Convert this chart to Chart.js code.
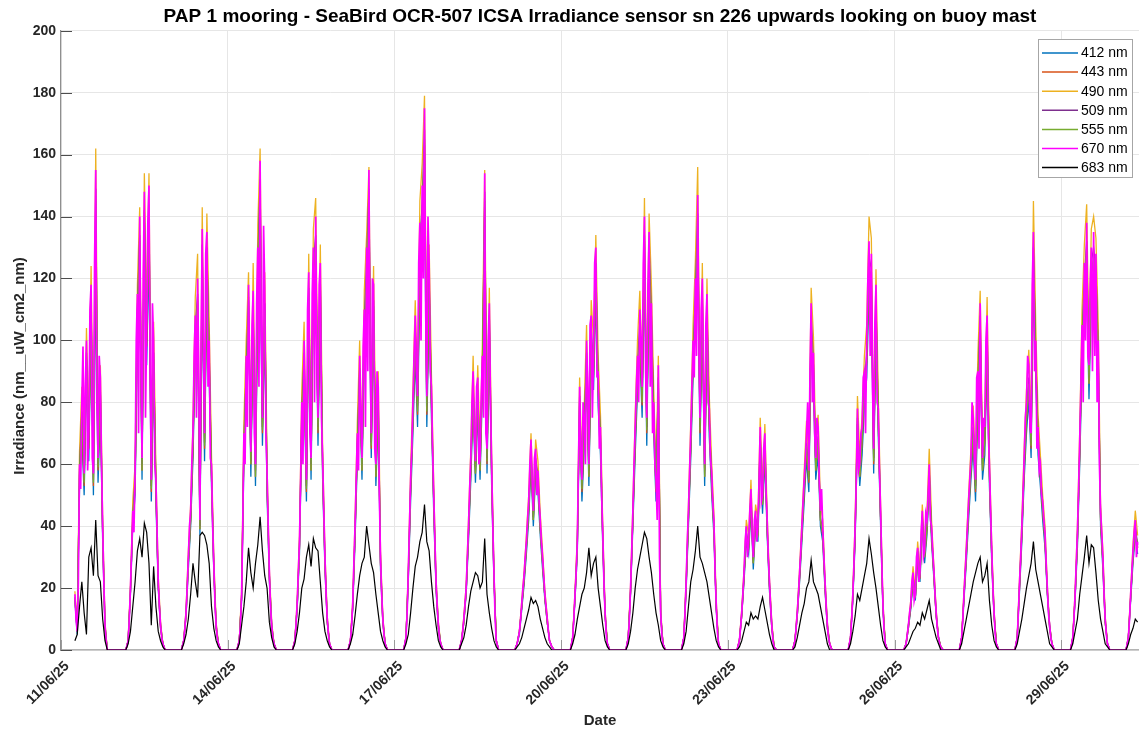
<!DOCTYPE html>
<html><head><meta charset="utf-8">
<script src="https://cdn.jsdelivr.net/npm/chart.js@4.4.1/dist/chart.umd.min.js"></script>
<style>html,body{margin:0;padding:0;background:#fff}#wrap{width:1139px;height:731px}</style>
</head><body><div id="wrap"><canvas id="c" width="1139" height="731"></canvas></div>
<script>
const chartTitle = 'PAP 1 mooring - SeaBird OCR-507 ICSA Irradiance sensor sn 226 upwards looking on buoy mast';
const yAxisTitle = 'Irradiance (nm__uW_cm2_nm)';
const xAxisTitle = 'Date';
const seriesLabels = ['412 nm','443 nm','490 nm','509 nm','555 nm','670 nm','683 nm'];
const seriesColors = ['#0072BD','#D95319','#EDB120','#7E2F8E','#77AC30','#FF00FF','#000000'];
const dateTickDays = [0,3,6,9,12,15,18];
const dateTickLabels = ['11/06/25','14/06/25','17/06/25','20/06/25','23/06/25','26/06/25','29/06/25'];
const yTicks = [0,20,40,60,80,100,120,140,160,180,200];
// sample hours of day (days counted from 11/06/25 00:00); nights read as 0
const hourlySamples = [5,6,7,8,9,10,11,12,13,14,15,16,17,18,19,20];
const halfHourSamples = [5,5.5,6,6.5,7,7.5,8,8.5,9,9.5,10,10.5,11,11.5,12,12.5,13,13.5,14,14.5,15,15.5,16,16.5,17,17.5,18,18.5,19,19.5,20];
const nightHours = [4,21];
const nightLevel = 0;

// 670 nm read at half-hour spacing (dense magenta trace)
const irr670 = [
[null,null,18,10,6,22,60,52,80,98,57,85,100,58,70,110,118,62,57,125,155,80,62,95,88,60,40,22,8,3,0],
[3,10,20,32,45,38,57,100,115,70,140,95,62,120,148,75,105,138,150,90,55,112,100,60,55,38,22,14,8,4,2],
[3,7,12,20,30,40,45,60,70,95,108,75,120,90,42,100,136,95,70,128,135,85,100,62,60,40,28,15,8,4,2],
[3,8,18,40,70,60,95,72,118,90,64,105,116,70,60,112,130,85,158,100,75,137,117,70,57,40,25,14,8,4,2],
[3,8,15,25,35,55,80,60,100,80,55,110,122,70,62,115,130,80,140,95,75,118,125,75,62,45,30,18,10,5,2],
[3,8,15,28,40,55,70,58,95,75,62,98,110,72,130,90,155,95,70,120,118,65,60,90,85,50,30,18,10,5,2],
[4,12,25,40,55,65,80,95,108,90,82,125,138,100,150,120,175,110,82,140,125,90,85,65,50,35,22,14,8,4,2],
[3,6,10,15,20,30,40,52,62,80,90,70,61,85,88,60,62,82,95,75,154,70,65,100,112,80,60,40,25,10,3],
[2,4,6,10,15,20,24,30,35,42,48,60,68,55,45,62,65,50,58,48,42,35,30,24,18,14,10,6,3,2,1],
[4,10,18,25,35,60,85,62,55,80,75,60,100,85,60,105,108,75,95,125,130,88,90,65,72,50,38,22,12,5,2],
[4,10,20,32,45,60,72,85,95,80,110,100,85,125,140,90,75,118,135,85,112,70,80,60,55,42,92,30,12,5,2],
[4,12,22,35,45,58,70,85,100,88,120,95,147,100,75,110,120,85,60,105,115,80,78,62,58,48,42,25,15,6,2],
[3,7,12,18,25,35,40,30,35,45,52,38,30,42,45,35,40,55,72,48,50,65,70,52,42,30,22,14,8,3,1],
[3,7,12,18,25,32,40,48,55,62,70,80,58,90,112,80,96,70,62,75,72,55,45,52,40,30,22,14,8,4,2],
[4,10,18,28,40,55,78,58,60,70,72,88,90,70,100,120,132,95,128,85,65,105,118,80,78,58,45,28,15,6,2],
[2,5,8,12,15,22,25,16,18,30,33,22,25,38,45,30,32,44,42,50,60,42,40,32,26,18,12,7,4,2,1],
[4,10,18,25,32,40,48,55,62,80,75,62,55,88,90,65,112,80,62,75,72,100,108,70,60,45,32,20,12,5,2],
[4,12,22,30,40,50,62,75,80,95,92,72,70,118,135,90,100,65,72,58,60,50,48,42,38,28,20,12,8,4,2],
[4,10,18,28,38,52,68,85,105,80,125,100,138,95,92,118,130,90,135,95,128,80,100,60,45,38,30,18,10,5,2],
[4,10,18,25,32,38,42,30,35]
];
const irr683 = [
[null,3,5,14,22,12,5,30,33,24,42,24,22,10,3,0],
[2,6,14,22,32,36,30,41,38,28,8,27,14,6,3,1],
[2,5,10,18,28,22,17,37,38,37,34,28,14,7,3,1],
[2,8,14,22,33,25,20,28,34,43,32,24,20,9,4,1],
[2,6,12,20,23,30,34,27,36,33,32,22,12,6,3,1],
[2,5,11,18,24,28,30,40,34,28,25,18,12,6,3,1],
[2,5,12,20,27,30,35,38,47,35,32,22,14,8,3,1],
[2,4,8,14,19,22,25,24,20,22,36,18,12,7,3,1],
[1,2,4,7,10,13,17,15,16,14,10,7,4,2,1,0],
[2,5,10,14,18,20,25,33,24,28,30,20,14,8,3,1],
[2,6,12,20,26,30,34,38,36,30,25,18,12,8,3,1],
[2,6,14,22,26,32,40,30,28,25,22,17,12,7,3,1],
[1,3,6,9,8,12,10,11,10,14,17,13,9,5,2,0],
[1,4,8,12,15,20,22,29,22,20,18,14,10,6,2,0],
[2,6,11,18,16,20,24,28,36,31,25,20,14,8,3,1],
[1,2,4,6,7,9,8,12,10,13,16,10,7,4,2,0],
[2,6,10,14,18,22,25,28,30,22,24,28,16,8,3,1],
[2,6,10,15,20,24,28,35,26,22,18,14,10,6,2,1],
[2,6,10,18,24,30,37,28,34,33,25,16,10,6,2,1],
[2,5,7,10,9]
];
const irr490 = [
[null,19,7,64,85,60,104,74,124,60,162,66,92,42,9,0],
[3,21,48,60,118,143,65,154,110,154,58,106,58,24,9,2],
[3,13,32,47,74,114,128,44,143,74,141,106,63,30,9,2],
[3,19,74,100,122,67,125,63,137,162,80,122,60,26,9,2],
[3,16,37,84,106,58,128,65,136,146,79,131,65,32,11,2],
[3,16,42,74,100,65,116,134,156,74,124,63,90,32,11,2],
[4,26,58,84,113,86,145,157,179,86,131,89,53,23,9,2],
[3,11,21,42,65,95,64,92,65,99,155,68,117,63,26,3],
[2,6,16,25,37,50,70,47,68,61,44,32,19,11,3,1],
[4,19,37,88,58,79,105,63,113,100,134,95,76,40,13,2],
[4,21,47,76,100,116,89,146,79,141,118,84,58,95,13,2],
[4,23,47,74,105,126,156,79,125,63,120,82,61,44,16,2],
[3,13,26,42,37,55,32,47,42,75,53,73,44,23,9,1],
[3,13,26,42,58,74,61,117,101,65,76,47,42,23,9,2],
[4,19,42,82,63,76,95,105,140,133,68,123,82,47,16,2],
[2,8,16,27,19,35,26,47,34,44,65,42,27,13,4,1],
[4,19,34,50,65,79,58,95,116,65,76,114,63,34,13,2],
[4,23,42,65,84,97,74,145,105,76,63,50,40,21,8,2],
[4,19,40,71,110,131,144,97,136,140,133,105,47,32,11,2],
[4,19,34,45,37]
];
const irr412 = [
[null,16,5,52,70,50,88,61,104,50,120,54,77,35,7,0],
[3,18,40,50,100,122,55,130,92,128,48,88,48,20,7,2],
[3,11,26,40,62,95,105,37,118,61,118,88,53,25,7,2],
[3,16,61,84,110,56,102,53,114,132,66,103,50,22,7,2],
[3,13,31,70,88,48,107,55,114,123,66,110,55,26,9,2],
[3,13,35,62,84,55,97,114,130,62,104,53,75,26,9,2],
[4,22,48,70,95,72,121,132,150,72,110,75,44,19,7,2],
[3,9,18,35,55,79,54,77,55,84,120,57,99,53,22,3],
[2,5,13,21,31,42,60,40,57,51,37,26,16,9,3,1],
[4,16,31,75,48,66,88,53,95,84,114,79,63,33,11,2],
[4,18,40,63,84,97,75,123,66,119,99,70,48,81,11,2],
[4,19,40,62,88,106,125,66,106,53,101,69,51,37,13,2],
[3,11,22,35,31,46,26,40,35,63,44,62,37,19,7,1],
[3,11,22,35,48,62,51,99,84,55,63,40,35,19,7,2],
[4,16,35,69,53,63,79,88,116,113,57,104,69,40,13,2],
[2,7,13,22,16,29,22,40,28,37,53,35,23,11,4,1],
[4,16,28,42,55,66,48,79,99,55,63,95,53,28,11,2],
[4,19,35,55,70,81,62,119,88,63,53,42,33,18,7,2],
[4,16,33,60,92,110,121,81,114,119,113,88,40,26,9,2],
[4,16,28,37,31]
];
const irr443 = [
[null,17,6,56,74,53,93,65,110,53,140,58,82,37,7,0],
[3,19,42,53,107,130,58,138,98,140,51,93,51,21,7,2],
[3,11,28,42,65,100,112,39,126,65,126,93,56,26,7,2],
[3,17,65,88,114,60,108,56,121,147,70,109,53,23,7,2],
[3,14,33,74,93,51,113,58,121,130,70,116,58,28,9,2],
[3,14,37,65,88,58,102,121,144,65,110,56,79,28,9,2],
[4,23,51,74,100,76,128,140,163,76,116,79,47,20,7,2],
[3,9,19,37,58,84,57,82,58,88,143,60,104,56,23,3],
[2,6,14,22,33,45,63,42,60,54,39,28,17,9,3,1],
[4,17,33,79,51,70,93,56,100,88,121,84,67,35,11,2],
[4,19,42,67,88,102,79,130,70,126,104,74,51,86,11,2],
[4,20,42,65,93,112,137,70,112,56,107,73,54,39,14,2],
[3,11,23,37,33,48,28,42,37,67,47,65,39,20,7,1],
[3,11,23,37,51,65,54,104,89,58,67,42,37,20,7,2],
[4,17,37,73,56,67,84,93,123,119,60,110,73,42,14,2],
[2,7,14,23,17,31,23,42,30,39,56,37,24,11,4,1],
[4,17,30,45,58,70,51,84,104,58,67,100,56,30,11,2],
[4,20,37,58,74,86,65,126,93,67,56,45,35,19,7,2],
[4,17,35,63,98,116,128,86,121,126,119,93,42,28,9,2],
[4,17,30,39,33]
];
const irr509 = [
[null,17,6,58,77,55,96,67,113,55,149,60,84,38,8,0],
[3,19,43,55,110,134,60,142,101,144,53,96,53,21,8,2],
[3,12,29,43,67,104,115,40,131,67,130,96,58,27,8,2],
[3,17,67,91,113,61,111,58,125,152,72,112,55,24,8,2],
[3,14,34,77,96,53,117,60,125,134,72,120,60,29,10,2],
[3,14,38,67,91,60,106,125,149,67,113,58,82,29,10,2],
[4,24,53,77,104,79,132,144,168,79,120,82,48,21,8,2],
[3,10,19,38,60,86,59,84,60,91,148,62,108,58,24,3],
[2,6,14,23,34,46,65,43,62,56,40,29,17,10,3,1],
[4,17,34,82,53,72,96,58,104,91,125,86,69,36,12,2],
[4,19,43,69,91,106,82,134,72,130,108,77,53,88,12,2],
[4,21,43,67,96,115,141,72,115,58,110,75,56,40,14,2],
[3,12,24,38,34,50,29,43,38,69,48,67,40,21,8,1],
[3,12,24,38,53,67,56,108,92,60,69,43,38,21,8,2],
[4,17,38,75,58,69,86,96,127,123,62,113,75,43,14,2],
[2,8,14,24,17,32,24,43,31,40,58,38,25,12,4,1],
[4,17,31,46,60,72,53,86,108,60,69,104,58,31,12,2],
[4,21,38,60,77,88,67,130,96,69,58,46,36,19,8,2],
[4,17,36,65,101,120,132,88,125,130,123,96,43,29,10,2],
[4,17,31,40,34]
];
const irr555 = [
[null,17,6,57,75,54,94,66,111,54,145,59,83,38,8,0],
[3,19,42,54,108,132,58,139,99,141,52,94,52,21,8,2],
[3,11,28,42,66,102,113,39,128,66,127,94,56,26,8,2],
[3,17,66,89,111,60,109,56,122,149,71,110,54,24,8,2],
[3,14,33,75,94,52,115,58,122,132,71,118,58,28,9,2],
[3,14,38,66,89,58,103,122,146,66,111,56,80,28,9,2],
[4,24,52,75,102,77,130,141,165,77,118,80,47,21,8,2],
[3,9,19,38,58,85,57,83,58,89,145,61,105,56,24,3],
[2,6,14,23,33,45,64,42,61,55,39,28,17,9,3,1],
[4,17,33,80,52,71,94,56,102,89,122,85,68,36,11,2],
[4,19,42,68,89,103,80,132,71,127,105,75,52,86,11,2],
[4,21,42,66,94,113,138,71,113,56,108,73,55,39,14,2],
[3,11,24,38,33,49,28,42,38,68,47,66,39,21,8,1],
[3,11,24,38,52,66,55,105,90,58,68,42,38,21,8,2],
[4,17,38,73,56,68,85,94,124,120,61,111,73,42,14,2],
[2,8,14,24,17,31,24,42,30,39,56,38,24,11,4,1],
[4,17,30,45,58,71,52,85,105,58,68,102,56,30,11,2],
[4,21,38,58,75,86,66,127,94,68,56,45,36,19,8,2],
[4,17,36,64,99,118,130,86,122,127,120,94,42,28,9,2],
[4,17,30,39,33]
];
const seriesData = [irr412, irr443, irr490, irr509, irr555, irr670, irr683];
const seriesHours = [hourlySamples, hourlySamples, hourlySamples, hourlySamples, hourlySamples, halfHourSamples, hourlySamples];

function buildSeries(days, hours) {
  const pts = [];
  days.forEach((vals, d) => {
    if (d > 0) pts.push({x: d + nightHours[0] / 24, y: nightLevel});
    vals.forEach((v, i) => { if (v !== null) pts.push({x: d + hours[i] / 24, y: v}); });
    if (vals.length === hours.length) pts.push({x: d + nightHours[1] / 24, y: nightLevel});
  });
  return pts;
}

const FONT = "'Liberation Sans', Arial, sans-serif";
const TXT = '#262626';

const decor = {
  id: 'decor',
  beforeDatasetsDraw(chart) {
    const ctx = chart.ctx, a = chart.chartArea, xs = chart.scales.x, ys = chart.scales.y;
    ctx.save();
    ctx.strokeStyle = '#4d4d4d'; ctx.lineWidth = 1;
    ys.ticks.forEach(t => {
      const y = Math.round(ys.getPixelForValue(t.value)) + 0.5;
      ctx.beginPath(); ctx.moveTo(a.left, y); ctx.lineTo(a.left + 11, y); ctx.stroke();
    });
    ctx.strokeStyle = '#9a9a9a';
    xs.ticks.forEach(t => {
      const x = Math.round(xs.getPixelForValue(t.value)) + 0.5;
      ctx.beginPath(); ctx.moveTo(x, a.bottom); ctx.lineTo(x, a.bottom - 10); ctx.stroke();
    });
    ctx.restore();
  },
  afterDraw(chart) {
    const ctx = chart.ctx;
    ctx.save();
    // y axis title
    ctx.translate(19.5, 366); ctx.rotate(-Math.PI / 2);
    ctx.font = 'bold 15px ' + FONT; ctx.fillStyle = TXT;
    ctx.textAlign = 'center'; ctx.textBaseline = 'middle';
    ctx.fillText(yAxisTitle, 0, 0);
    ctx.restore();
    // legend
    const L = 1038, T = 39, R = 1132, B = 177;
    ctx.save();
    ctx.fillStyle = '#ffffff'; ctx.fillRect(L, T, R - L, B - T);
    ctx.strokeStyle = '#a6a6a6'; ctx.lineWidth = 1;
    ctx.strokeRect(L + 0.5, T + 0.5, R - L, B - T);
    ctx.font = '14px ' + FONT; ctx.textBaseline = 'middle'; ctx.textAlign = 'left';
    seriesLabels.forEach((lab, i) => {
      const y = 53 + i * 19.1;
      ctx.strokeStyle = seriesColors[i]; ctx.lineWidth = 1.5;
      ctx.beginPath(); ctx.moveTo(1042, y); ctx.lineTo(1078, y); ctx.stroke();
      ctx.fillStyle = '#000000'; ctx.fillText(lab, 1081, y + 0.5);
    });
    ctx.restore();
  }
};

const datasets = seriesData.map((days, i) => ({
  label: seriesLabels[i],
  data: buildSeries(days, seriesHours[i]),
  borderColor: seriesColors[i],
  backgroundColor: seriesColors[i],
  borderWidth: i === 5 ? 1.7 : (i === 6 ? 1.2 : 1.3),
  pointRadius: 0,
  tension: 0,
  fill: false,
  order: 6 - i
}));

new Chart(document.getElementById('c'), {
  type: 'line',
  data: { datasets },
  options: {
    responsive: false,
    animation: false,
    devicePixelRatio: 1,
    parsing: false,
    normalized: true,
    layout: { padding: { left: 0, right: 0, top: 0, bottom: 0 } },
    plugins: {
      legend: { display: false },
      tooltip: { enabled: false },
      title: {
        display: true, text: chartTitle, fullSize: false, color: '#000000',
        font: { family: FONT, size: 19, weight: 'bold' },
        padding: { top: 5, bottom: 3 }
      }
    },
    scales: {
      x: {
        type: 'linear', min: 0, max: 19.40,
        afterBuildTicks: s => { s.ticks = dateTickDays.map(v => ({value: v})); },
        afterFit: s => { s.height = 81; },
        ticks: {
          autoSkip: false, maxRotation: 45, minRotation: 45, padding: 8, labelOffset: 6,
          color: TXT, font: { family: FONT, size: 14, weight: 'bold' },
          callback: v => { const k = dateTickDays.indexOf(v); return k >= 0 ? dateTickLabels[k] : ''; }
        },
        grid: { color: '#e6e6e6', lineWidth: 1, drawTicks: false },
        border: { display: true, color: '#b3b3b3', width: 1.5 },
        title: { display: true, text: xAxisTitle, color: TXT, font: { family: FONT, size: 15, weight: 'bold' }, padding: { top: 0, bottom: 1 } }
      },
      y: {
        type: 'linear', min: 0, max: 200,
        afterBuildTicks: s => { s.ticks = yTicks.map(v => ({value: v})); },
        afterFit: s => { s.width = 61; },
        ticks: { padding: 5, color: TXT, font: { family: FONT, size: 14, weight: 'bold' } },
        grid: { color: '#e6e6e6', lineWidth: 1, drawTicks: false },
        border: { display: true, color: '#8f8f8f', width: 1.2 },
        title: { display: false }
      }
    }
  },
  plugins: [decor]
});
</script></body></html>
